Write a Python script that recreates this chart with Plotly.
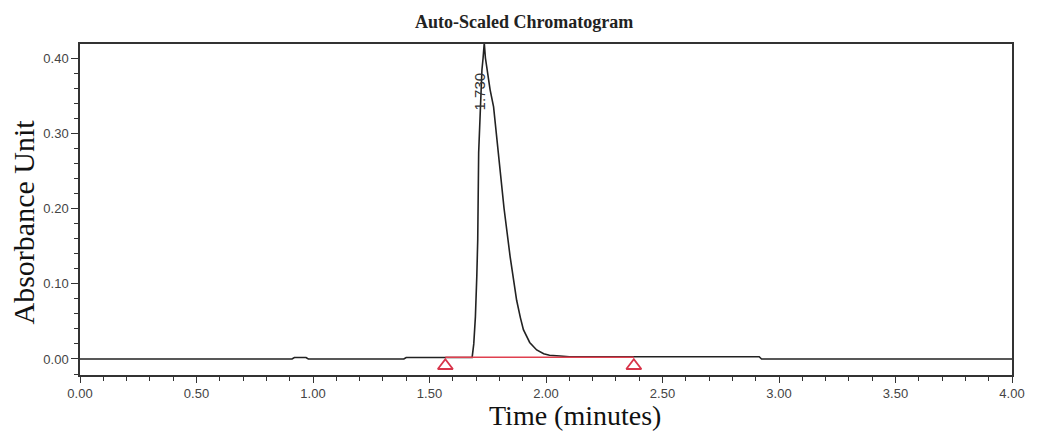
import plotly.graph_objects as go

# Chromatogram trace (time in minutes, absorbance units)
time_min = [0.00, 0.91, 0.92, 0.97, 0.98, 1.39, 1.40, 1.683, 1.690, 1.697, 1.703,
            1.707, 1.711, 1.718, 1.725, 1.730, 1.735, 1.740, 1.750, 1.760, 1.775,
            1.790, 1.800, 1.820, 1.846, 1.860, 1.874, 1.890, 1.903, 1.930, 1.960,
            1.990, 2.015, 2.060, 2.100, 2.500, 2.915, 2.925, 4.00]
absorbance = [0.000, 0.000, 0.002, 0.002, 0.000, 0.000, 0.002, 0.002, 0.020, 0.056, 0.110,
              0.158, 0.274, 0.330, 0.384, 0.400, 0.420, 0.400, 0.378, 0.358, 0.335,
              0.290, 0.265, 0.200, 0.136, 0.105, 0.078, 0.055, 0.039, 0.022, 0.012,
              0.007, 0.005, 0.004, 0.003, 0.003, 0.003, 0.000, 0.000]

# Integration baseline and markers
baseline_t = [1.568, 2.377]
baseline_v = [0.0022, 0.0022]
marker_t = [1.568, 2.377]
marker_v = [-0.009, -0.009]

peak_label = "1.730"
peak_label_t = 1.715
peak_label_v = 0.355

x_ticks = [0.0, 0.5, 1.0, 1.5, 2.0, 2.5, 3.0, 3.5, 4.0]
y_ticks = [0.0, 0.1, 0.2, 0.3, 0.4]

fig = go.Figure()
fig.add_trace(go.Scatter(x=time_min, y=absorbance, mode="lines",
                         line=dict(color="#222222", width=1.6), showlegend=False))
fig.add_trace(go.Scatter(x=baseline_t, y=baseline_v, mode="lines",
                         line=dict(color="#e0404f", width=1.6), showlegend=False))
fig.add_trace(go.Scatter(x=marker_t, y=marker_v, mode="markers",
                         marker=dict(symbol="triangle-up-open", size=13, color="#d8344a",
                                     line=dict(width=1.8, color="#d8344a")),
                         showlegend=False, cliponaxis=False))

fig.add_annotation(x=peak_label_t, y=peak_label_v, text=peak_label, textangle=-90,
                   showarrow=False, font=dict(family="Liberation Sans", size=15, color="#333333"))

fig.add_annotation(xref="paper", yref="paper", x=0.476, y=1.0, yshift=22,
                   xanchor="center", yanchor="middle",
                   text="<b>Auto-Scaled Chromatogram</b>", showarrow=False,
                   font=dict(family="Liberation Serif", size=18, color="#222222"))
fig.add_annotation(xref="paper", yref="paper", x=0.531, y=0, yshift=-40,
                   xanchor="center", yanchor="middle",
                   text="Time (minutes)", showarrow=False,
                   font=dict(family="Liberation Serif", size=28, color="#111111"))
fig.add_annotation(xref="paper", yref="paper", x=0, xshift=-57, y=0.5, yshift=-13,
                   xanchor="center", yanchor="middle",
                   text="Absorbance Unit", textangle=-90, showarrow=False,
                   font=dict(family="Liberation Serif", size=30, color="#111111"))

fig.update_layout(
    width=1037, height=437,
    margin=dict(l=80, r=17, t=44, b=62),
    paper_bgcolor="white", plot_bgcolor="white",
    xaxis=dict(range=[0, 4], tickvals=x_ticks, tickformat=".2f",
               showline=True, linecolor="#333333", linewidth=1.5, mirror=True,
               ticks="outside", ticklen=6, tickwidth=1, tickcolor="#333333",
               minor=dict(dtick=0.1, ticks="outside", ticklen=4, tickcolor="#333333"),
               showgrid=False, zeroline=False,
               tickfont=dict(family="Liberation Sans", size=13, color="#444444")),
    yaxis=dict(range=[-0.0213, 0.4186], tickvals=y_ticks, tickformat=".2f",
               showline=True, linecolor="#333333", linewidth=1.5, mirror=True,
               ticks="outside", ticklen=7, tickwidth=1, tickcolor="#333333",
               minor=dict(dtick=0.02, ticks="outside", ticklen=4, tickcolor="#333333"),
               showgrid=False, zeroline=False,
               tickfont=dict(family="Liberation Sans", size=13, color="#444444")),
)

fig.write_html("out.html")
